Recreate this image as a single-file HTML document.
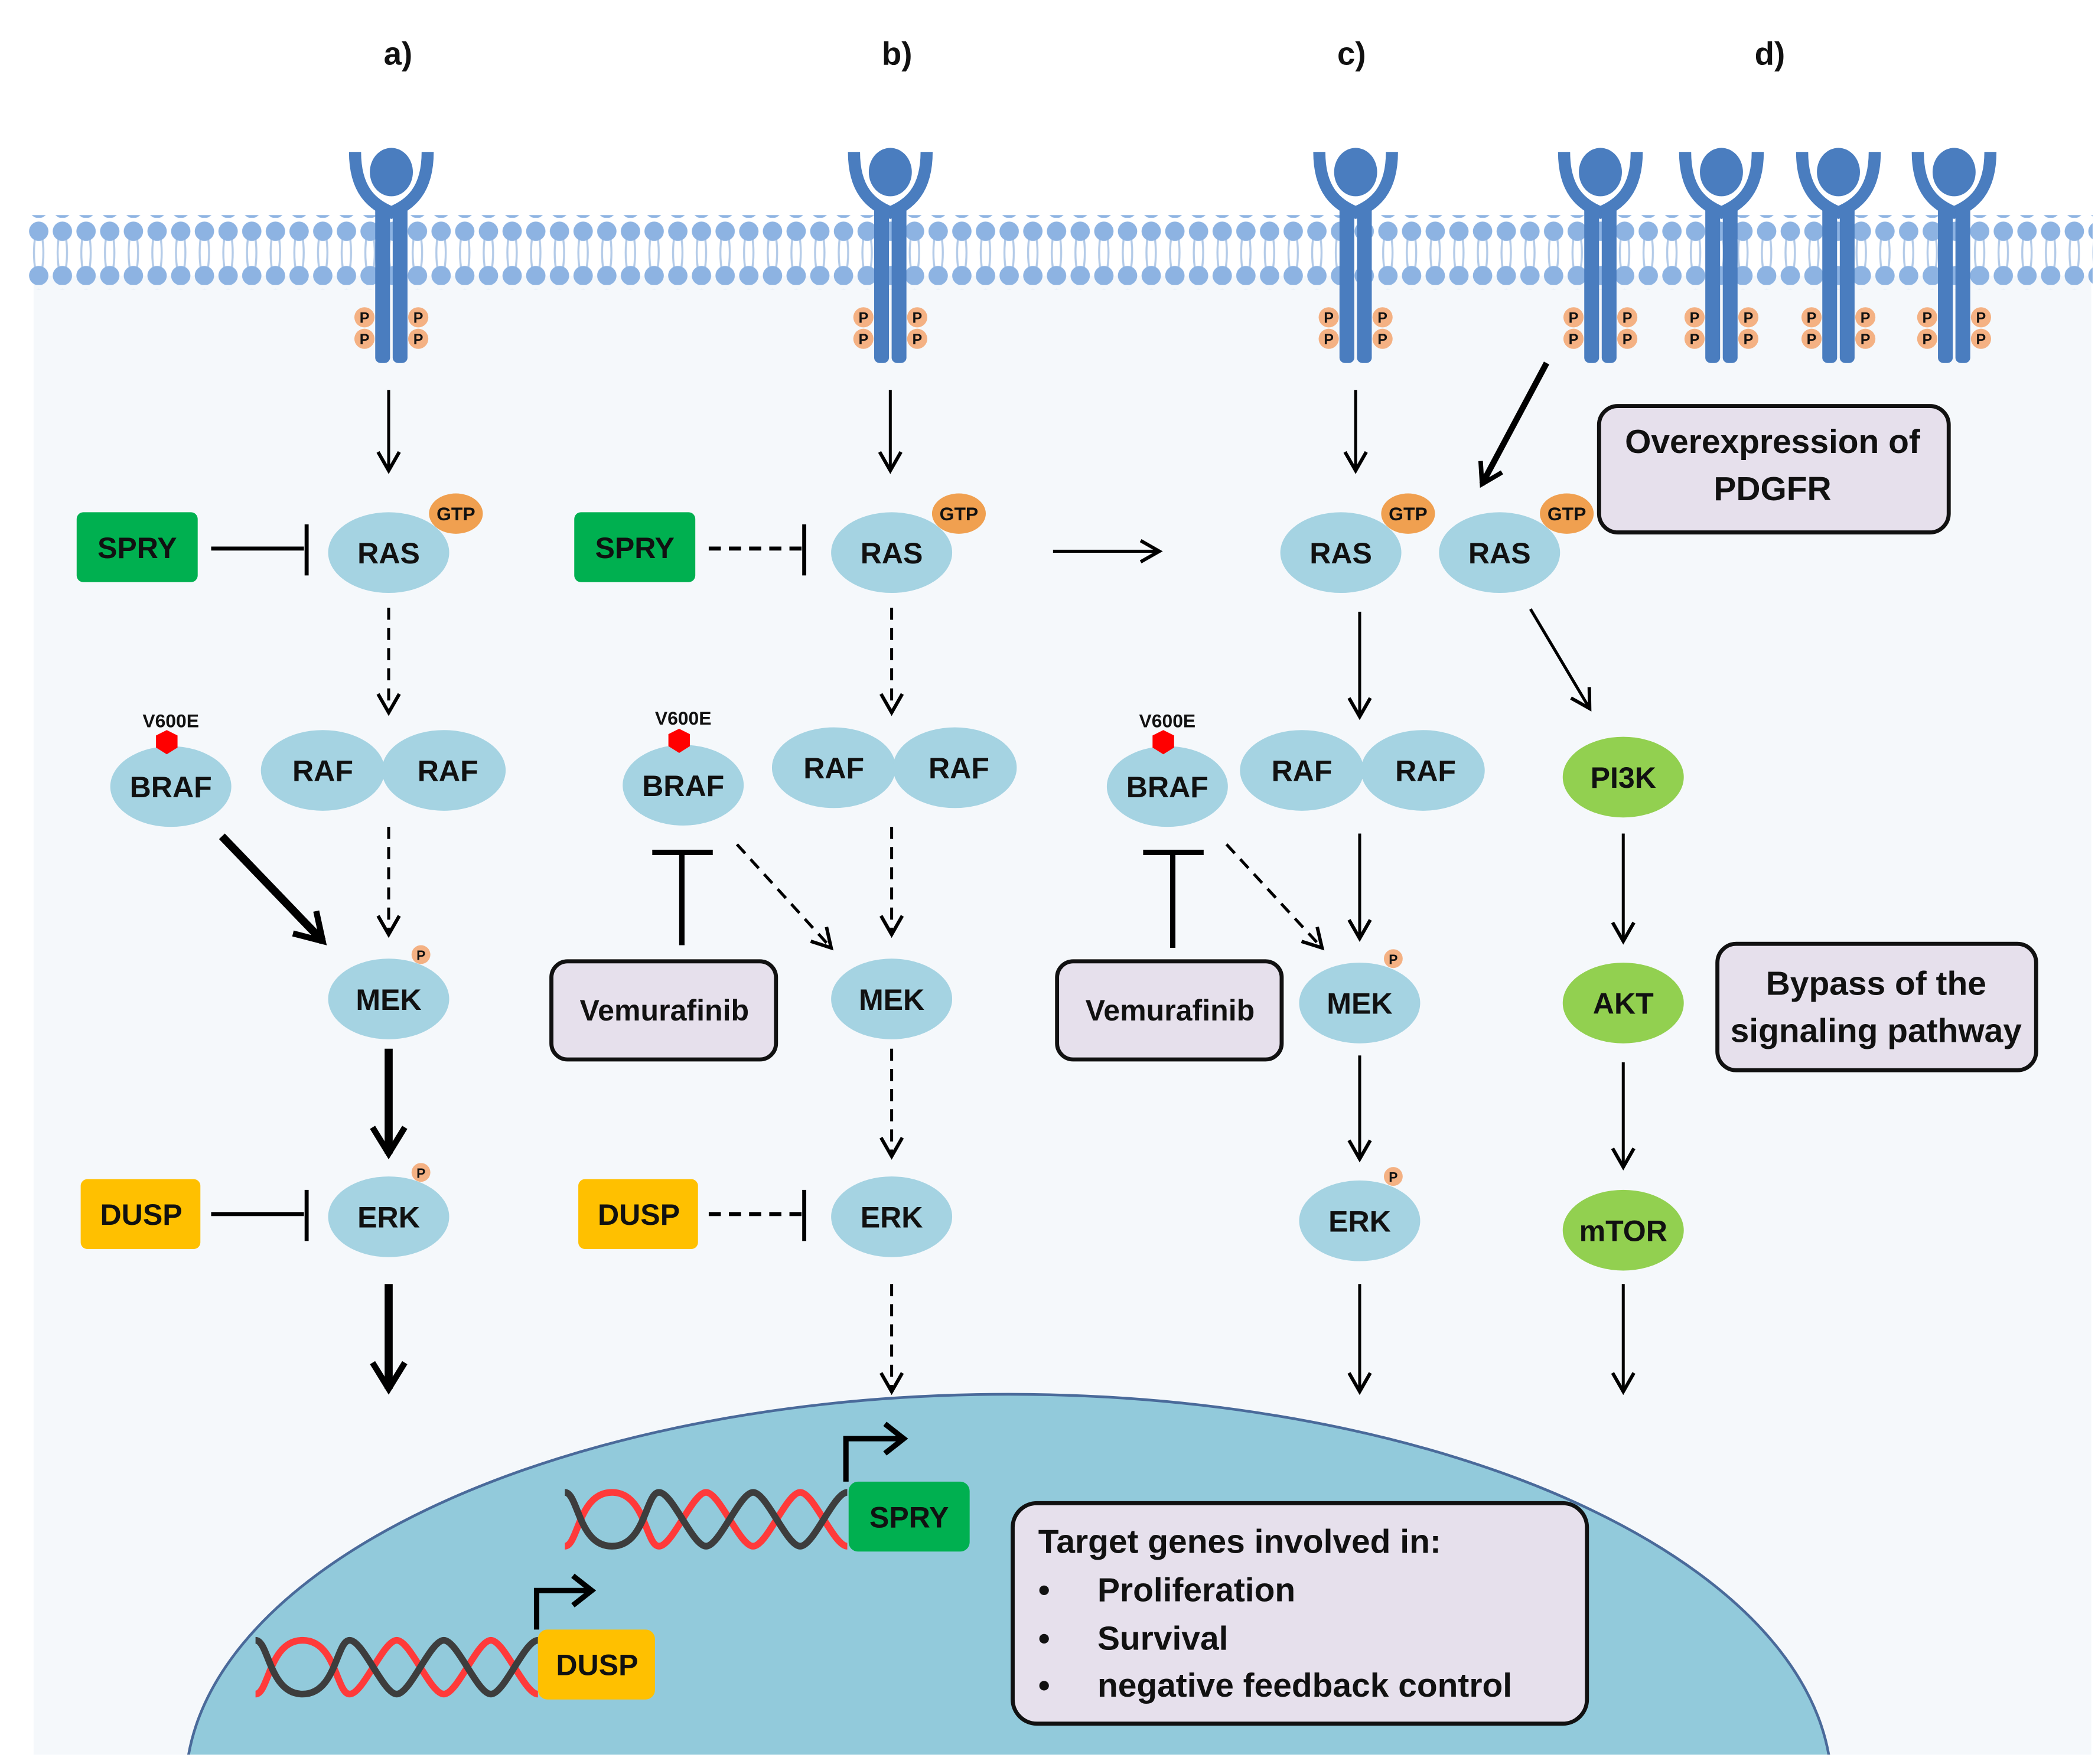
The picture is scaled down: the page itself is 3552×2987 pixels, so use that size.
<!DOCTYPE html>
<html><head><meta charset="utf-8"><style>
html,body{margin:0;padding:0;background:#fff;width:3552px;height:2987px;overflow:hidden}
svg{display:block}
text{font-family:"Liberation Sans",sans-serif;font-weight:bold;fill:#111}
</style></head><body>
<svg width="3552" height="2987" viewBox="0 0 1560 1312" preserveAspectRatio="none" xmlns="http://www.w3.org/2000/svg">
<defs>
<pattern id="mem" x="20" y="162" width="17.6" height="50" patternUnits="userSpaceOnUse">
<path d="M6.5 12 Q4 26 6.5 40 M11 12 Q13.5 26 11 40" stroke="#b4cbe8" stroke-width="1.5" fill="none"/>
<circle cx="8.8" cy="10" r="7.2" fill="#8db3e2"/>
<circle cx="8.8" cy="43" r="7.2" fill="#8db3e2"/>
</pattern>
<marker id="ah" viewBox="0 0 20 20" refX="17" refY="10" markerWidth="9" markerHeight="9" orient="auto" markerUnits="strokeWidth">
<path d="M3 2 L17 10 L3 18" fill="none" stroke="#000" stroke-width="2.6"/>
</marker>
<marker id="ahT" viewBox="0 0 20 20" refX="16" refY="10" markerWidth="5" markerHeight="5" orient="auto" markerUnits="strokeWidth">
<path d="M3 2 L16 10 L3 18" fill="none" stroke="#000" stroke-width="3"/>
</marker>
<g id="rec">
<path d="M-27 113 C -27 142 -14 152 0 158 C 14 152 27 142 27 113" stroke="#4a7dbf" stroke-width="9" fill="none"/>
<ellipse cx="0" cy="128" rx="16" ry="18" fill="#4a7dbf"/>
<rect x="-12" y="152" width="11" height="118" rx="4" fill="#4a7dbf"/>
<rect x="1" y="152" width="11" height="118" rx="4" fill="#4a7dbf"/>
<g fill="#f4b183"><circle cx="-20" cy="236" r="7.5"/><circle cx="-20" cy="252" r="7.5"/><circle cx="20" cy="236" r="7.5"/><circle cx="20" cy="252" r="7.5"/></g>
<g font-size="11" text-anchor="middle" style="font-weight:normal"><text x="-20" y="240">P</text><text x="-20" y="256">P</text><text x="20" y="240">P</text><text x="20" y="256">P</text></g>
</g>
<g id="helix">
<path d="M0 20 c10 0 10 -40 35 -40 s25 40 35 40 s25 -40 35 -40 s25 40 35 40 s25 -40 35 -40 s25 40 35 40" stroke="#ff3a3a" stroke-width="5" fill="none"/>
<path d="M0 -20 c10 0 10 40 35 40 s25 -40 35 -40 s25 40 35 40 s25 -40 35 -40 s25 40 35 40 s25 -40 35 -40" stroke="#3d3d3d" stroke-width="5" fill="none"/>
</g>
</defs>

<rect x="25" y="205" width="1530" height="1100" fill="#f5f8fb"/>
<clipPath id="cl"><rect x="0" y="0" width="1560" height="1305"/></clipPath>
<ellipse cx="750" cy="1330" rx="612" ry="293" fill="#92cadb" stroke="#4a6a9a" stroke-width="2" clip-path="url(#cl)"/>
<rect x="20" y="160" width="1536" height="55" fill="url(#mem)"/>

<use href="#rec" x="291"/><use href="#rec" x="662"/><use href="#rec" x="1008"/>
<use href="#rec" x="1190"/><use href="#rec" x="1280"/><use href="#rec" x="1367"/><use href="#rec" x="1453"/>

<g font-size="24" text-anchor="middle"><text x="296" y="48">a)</text><text x="667" y="48">b)</text><text x="1005" y="48">c)</text><text x="1316" y="48">d)</text></g>

<g fill="#a5d3e2">
<ellipse cx="289" cy="411" rx="45" ry="30"/><ellipse cx="240" cy="573" rx="46" ry="30"/><ellipse cx="330" cy="573" rx="46" ry="30"/>
<ellipse cx="127" cy="585" rx="45" ry="30"/><ellipse cx="289" cy="743" rx="45" ry="30"/><ellipse cx="289" cy="905" rx="45" ry="30"/>
<ellipse cx="663" cy="411" rx="45" ry="30"/><ellipse cx="620" cy="571" rx="46" ry="30"/><ellipse cx="710" cy="571" rx="46" ry="30"/>
<ellipse cx="508" cy="584" rx="45" ry="30"/><ellipse cx="663" cy="743" rx="45" ry="30"/><ellipse cx="663" cy="905" rx="45" ry="30"/>
<ellipse cx="997" cy="411" rx="45" ry="30"/><ellipse cx="1115" cy="411" rx="45" ry="30"/>
<ellipse cx="968" cy="573" rx="46" ry="30"/><ellipse cx="1058" cy="573" rx="46" ry="30"/>
<ellipse cx="868" cy="585" rx="45" ry="30"/><ellipse cx="1011" cy="746" rx="45" ry="30"/><ellipse cx="1011" cy="908" rx="45" ry="30"/>
</g>
<g fill="#92d050"><ellipse cx="1207" cy="578" rx="45" ry="30"/><ellipse cx="1207" cy="746" rx="45" ry="30"/><ellipse cx="1207" cy="915" rx="45" ry="30"/></g>
<g fill="#f0a050"><ellipse cx="339" cy="382" rx="20" ry="15"/><ellipse cx="713" cy="382" rx="20" ry="15"/><ellipse cx="1047" cy="382" rx="20" ry="15"/><ellipse cx="1165" cy="382" rx="20" ry="15"/></g>
<g font-size="14" text-anchor="middle" style="font-weight:normal"><text x="339" y="387">GTP</text><text x="713" y="387">GTP</text><text x="1047" y="387">GTP</text><text x="1165" y="387">GTP</text></g>
<g fill="#f4b183"><circle cx="313" cy="710" r="7"/><circle cx="313" cy="872" r="7"/><circle cx="1036" cy="713" r="7"/><circle cx="1036" cy="875" r="7"/></g>
<g font-size="10" text-anchor="middle" style="font-weight:normal"><text x="313" y="714">P</text><text x="313" y="876">P</text><text x="1036" y="717">P</text><text x="1036" y="879">P</text></g>
<g fill="#ff0000"><polygon points="116,547 124,543 132,547 132,556 124,561 116,556"/><polygon points="497,546 505,542 513,546 513,555 505,560 497,555"/><polygon points="857,547 865,543 873,547 873,556 865,561 857,556"/></g>
<g font-size="14" text-anchor="middle" style="fill:#ff0000"><text x="127" y="541">V600E</text><text x="508" y="539">V600E</text><text x="868" y="541">V600E</text></g>

<g font-size="22" text-anchor="middle">
<text x="289" y="419">RAS</text><text x="240" y="581">RAF</text><text x="333" y="581">RAF</text><text x="127" y="593">BRAF</text><text x="289" y="751">MEK</text><text x="289" y="913">ERK</text>
<text x="663" y="419">RAS</text><text x="620" y="579">RAF</text><text x="713" y="579">RAF</text><text x="508" y="592">BRAF</text><text x="663" y="751">MEK</text><text x="663" y="913">ERK</text>
<text x="997" y="419">RAS</text><text x="1115" y="419">RAS</text><text x="968" y="581">RAF</text><text x="1060" y="581">RAF</text><text x="868" y="593">BRAF</text><text x="1011" y="754">MEK</text><text x="1011" y="916">ERK</text>
<text x="1207" y="586">PI3K</text><text x="1207" y="754">AKT</text><text x="1207" y="923">mTOR</text>
</g>

<rect x="57" y="381" width="90" height="52" rx="5" fill="#00b050"/><rect x="427" y="381" width="90" height="52" rx="5" fill="#00b050"/>
<rect x="60" y="877" width="89" height="52" rx="5" fill="#ffc000"/><rect x="430" y="877" width="89" height="52" rx="5" fill="#ffc000"/>
<g font-size="22" text-anchor="middle"><text x="102" y="415">SPRY</text><text x="472" y="415">SPRY</text><text x="105" y="911">DUSP</text><text x="475" y="911">DUSP</text></g>

<g stroke="#000" stroke-width="3" fill="none">
<path d="M157 408 H226 M228 390 V428"/>
<path d="M157 903 H226 M228 885 V923"/>
<path d="M527 408 H596" stroke-dasharray="9 6"/><path d="M598 390 V428"/>
<path d="M527 903 H596" stroke-dasharray="9 6"/><path d="M598 885 V923"/>
<path d="M507 703 V635 M485 634 H530" stroke-width="4"/>
<path d="M872 705 V635 M850 634 H895" stroke-width="4"/>
</g>

<g stroke="#000" stroke-width="2.2" fill="none" marker-end="url(#ah)">
<path d="M289 290 V350"/><path d="M662 290 V350"/><path d="M1008 290 V350"/>
<path d="M289 452 V530" stroke-dasharray="9 6"/><path d="M289 615 V695" stroke-dasharray="9 6"/>
<path d="M663 452 V530" stroke-dasharray="9 6"/><path d="M663 615 V695" stroke-dasharray="9 6"/>
<path d="M663 780 V860" stroke-dasharray="9 6"/><path d="M663 955 V1035" stroke-dasharray="9 6"/>
<path d="M548 628 L618 705" stroke-dasharray="9 6"/><path d="M912 628 L983 705" stroke-dasharray="9 6"/>
<path d="M783 410 H862"/>
<path d="M1011 455 V533"/><path d="M1011 620 V698"/><path d="M1011 785 V862"/><path d="M1011 955 V1035"/>
<path d="M1138 453 L1182 527"/>
<path d="M1207 620 V700"/><path d="M1207 790 V868"/><path d="M1207 955 V1035"/>
</g>
<g stroke="#000" stroke-width="6" fill="none" marker-end="url(#ahT)">
<path d="M165 622 L240 700"/><path d="M289 780 V858"/><path d="M289 955 V1033"/>
<path d="M1150 270 L1102 360" stroke-width="4.5"/>
</g>

<g fill="#e6e0ec" stroke="#111" stroke-width="3">
<rect x="410" y="715" width="167" height="73" rx="12"/><rect x="786" y="715" width="167" height="73" rx="12"/>
<rect x="1189" y="302" width="260" height="94" rx="14"/><rect x="1277" y="702" width="237" height="94" rx="14"/>
<rect x="753" y="1118" width="427" height="164" rx="18"/>
</g>
<g font-size="22" text-anchor="middle" style="font-weight:normal">
<text x="494" y="759">Vemurafinib</text><text x="870" y="759">Vemurafinib</text>
</g>
<g font-size="25" text-anchor="middle" style="font-weight:normal">
<text x="1318" y="337">Overexpression of</text><text x="1318" y="372">PDGFR</text>
<text x="1395" y="740">Bypass  of the</text><text x="1395" y="775">signaling pathway</text>
</g>
<g font-size="25" style="font-weight:normal">
<text x="772" y="1155">Target genes involved in:</text>
<text x="772" y="1191">•</text><text x="816" y="1191">Proliferation</text>
<text x="772" y="1227">•</text><text x="816" y="1227">Survival</text>
<text x="772" y="1262">•</text><text x="816" y="1262">negative feedback control</text>
</g>

<use href="#helix" x="190" y="1240"/>
<use href="#helix" x="420" y="1130"/>
<rect x="400" y="1212" width="87" height="52" rx="7" fill="#ffc000"/>
<rect x="631" y="1102" width="90" height="52" rx="7" fill="#00b050"/>
<text x="444" y="1246" font-size="22" text-anchor="middle">DUSP</text>
<text x="676" y="1136" font-size="22" text-anchor="middle">SPRY</text>
<g stroke="#000" stroke-width="4" fill="none">
<path d="M399 1212 V1183 H438"/><path d="M426 1172 L440 1183 L426 1194"/>
<path d="M629 1102 V1070 H670"/><path d="M658 1059 L672 1070 L658 1081"/>
</g>
</svg>
</body></html>
